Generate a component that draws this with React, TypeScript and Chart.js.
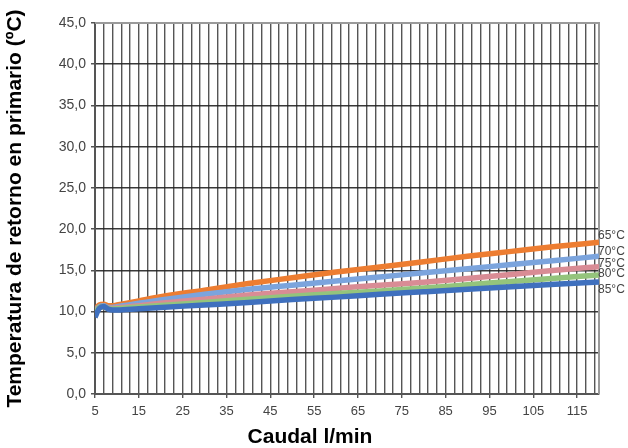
import React, { useEffect, useRef } from 'react';
import { Chart, registerables } from 'chart.js';

Chart.register(...registerables);

// Flow rate (l/min) sample points
const flow = [5, 6, 7, 8, 9, 10, 15, 20, 30, 40, 50, 60, 70, 80, 90, 100, 110, 120];

// Return temperature (ºC) per primary temperature
const t65 = [10.3, 10.8, 10.9, 10.7, 10.7, 10.8, 11.3, 11.8, 12.6, 13.4, 14.1, 14.8, 15.4, 16.05, 16.7, 17.3, 17.9, 18.4];
const t70 = [10.1, 10.6, 10.7, 10.5, 10.5, 10.6, 11.0, 11.4, 12.1, 12.7, 13.2, 13.7, 14.2, 14.7, 15.2, 15.7, 16.2, 16.7];
const t75 = [10.0, 10.5, 10.6, 10.4, 10.4, 10.45, 10.7, 11.0, 11.5, 12.0, 12.4, 12.8, 13.2, 13.55, 14.0, 14.5, 15.0, 15.45];
const t80 = [9.9, 10.5, 10.6, 10.35, 10.3, 10.35, 10.55, 10.75, 11.1, 11.5, 11.85, 12.2, 12.5, 12.85, 13.25, 13.65, 14.05, 14.45];
const t85 = [9.3, 10.4, 10.6, 10.3, 10.2, 10.2, 10.35, 10.5, 10.8, 11.1, 11.45, 11.75, 12.1, 12.4, 12.7, 13.0, 13.3, 13.6];

const seriesNames = ['65°C', '70°C', '75°C', '80°C', '85°C'];
const seriesValues = [t65, t70, t75, t80, t85];
const seriesColors = ['#ED7D31', '#7BA4DD', '#D98C95', '#94C47C', '#3F70BE'];

const xTickValues = [5, 15, 25, 35, 45, 55, 65, 75, 85, 95, 105, 115];
const xTickLabels = ['5', '15', '25', '35', '45', '55', '65', '75', '85', '95', '105', '115'];

const X_MIN = 5;
const X_MAX = 120;
const X_GRID_STEP = 2;
const Y_MIN = 0;
const Y_MAX = 45;
const Y_STEP = 5;

const xTitle = 'Caudal l/min';
const yTitle = 'Temperatura de retorno en primario (ºC)';

const FONT = '"Liberation Sans", Arial, sans-serif';

// style: vertical offsets for end labels (px)
const labelOffsets = [-7, -4.5, -3, -1, 8];

const endLabels = {
  id: 'endLabels',
  afterDatasetsDraw(chart: any) {
    const ctx = chart.ctx;
    ctx.save();
    ctx.font = '12px ' + FONT;
    ctx.fillStyle = '#444';
    ctx.textAlign = 'left';
    ctx.textBaseline = 'middle';
    chart.data.datasets.forEach((ds: any, i: number) => {
      const meta = chart.getDatasetMeta(i);
      const pt = meta.data[meta.data.length - 1];
      if (!pt) return;
      ctx.fillText(ds.label, pt.x - 1, pt.y + labelOffsets[i]);
    });
    ctx.restore();
  },
};

const xTitlePlugin = {
  id: 'xTitle',
  afterDraw(chart: any) {
    const ctx = chart.ctx;
    ctx.save();
    ctx.font = 'bold 21px ' + FONT;
    ctx.fillStyle = '#000';
    ctx.textAlign = 'center';
    ctx.textBaseline = 'middle';
    ctx.fillText(xTitle, 310, 437);
    ctx.restore();
  },
};

const frame = {
  id: 'frame',
  beforeDatasetsDraw(chart: any) {
    const { ctx, chartArea } = chart;
    ctx.save();
    ctx.strokeStyle = '#9a9a9a';
    ctx.lineWidth = 2;
    ctx.beginPath();
    ctx.moveTo(chartArea.left, chartArea.top);
    ctx.lineTo(chartArea.right, chartArea.top);
    ctx.lineTo(chartArea.right, chartArea.bottom);
    ctx.stroke();
    ctx.restore();
  },
};

export default function App() {
  const ref = useRef<HTMLCanvasElement | null>(null);

  useEffect(() => {
    if (!ref.current) return;
    const gridValues: number[] = [];
    for (let v = X_MIN; v < X_MAX; v += X_GRID_STEP) gridValues.push(v);

    const chart = new Chart(ref.current, {
      type: 'line',
      data: {
        datasets: seriesNames.map((name, i) => ({
          label: name,
          data: flow.map((x, j) => ({ x, y: seriesValues[i][j] })),
          borderColor: seriesColors[i],
          backgroundColor: seriesColors[i],
          borderWidth: 5.5,
          pointRadius: 0,
          cubicInterpolationMode: 'monotone',
          order: seriesNames.length - i,
        })),
      },
      options: {
        animation: false,
        responsive: false,
        layout: { padding: { top: 23, right: 29, left: 0, bottom: 0 } },
        plugins: {
          legend: { display: false },
          tooltip: { enabled: false },
        },
        scales: {
          x: {
            type: 'linear',
            min: X_MIN,
            max: X_MAX,
            afterBuildTicks: (axis: any) => {
              axis.ticks = gridValues.map((v) => ({ value: v }));
            },
            afterFit: (scale: any) => {
              scale.height = 54;
            },
            ticks: {
              autoSkip: false,
              maxRotation: 0,
              padding: 6,
              color: '#444',
              font: { family: FONT, size: 13 },
              callback: (value: any) => {
                const k = xTickValues.indexOf(Number(value));
                return k >= 0 ? xTickLabels[k] : '';
              },
            },
            grid: {
              color: 'rgba(55,55,55,0.85)',
              lineWidth: 1.4,
              drawTicks: true,
              tickLength: 4,
              tickColor: (c: any) =>
                c.tick && xTickValues.indexOf(c.tick.value) >= 0 ? '#555' : 'rgba(0,0,0,0)',
            },
            border: { color: '#555', width: 2 },
            title: { display: false },
          },
          y: {
            type: 'linear',
            min: Y_MIN,
            max: Y_MAX,
            afterFit: (scale: any) => {
              scale.width = 95;
            },
            ticks: {
              stepSize: Y_STEP,
              padding: 5,
              color: '#444',
              font: { family: FONT, size: 14 },
              callback: (value: any) => Number(value).toFixed(1).replace('.', ','),
            },
            grid: {
              color: 'rgba(35,35,35,0.9)',
              lineWidth: 1.5,
              drawTicks: true,
              tickLength: 4,
              tickColor: '#555',
            },
            border: { color: '#555', width: 2 },
            title: {
              display: true,
              text: yTitle,
              color: '#000',
              font: { family: FONT, size: 21, weight: 'bold' },
              padding: { top: 3, bottom: 0 },
            },
          },
        },
      },
      plugins: [frame, endLabels, xTitlePlugin],
    } as any);

    return () => chart.destroy();
  }, []);

  return (
    <div style={{ position: 'fixed', left: 0, top: 0, width: 628, height: 448, background: '#fff' }}>
      <canvas ref={ref} width={628} height={448} style={{ display: 'block' }} />
    </div>
  );
}
